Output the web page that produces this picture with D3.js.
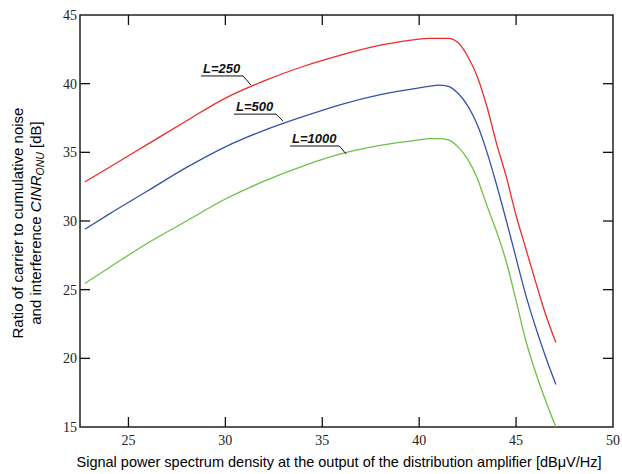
<!DOCTYPE html>
<html lang="en">
<head>
<meta charset="utf-8">
<title>CINR vs signal PSD</title>
<script src="https://cdn.jsdelivr.net/npm/d3@7"></script>
<style>
  html, body { margin: 0; padding: 0; background: #fff; }
  svg { display: block; }
</style>
</head>
<body>
<script>
// data
const xs       = [22.75, 24, 26, 28, 30, 32, 34, 36, 38, 40, 40.5, 41, 41.5, 42, 42.5, 43, 43.5, 44, 44.5, 45, 45.5, 46, 46.5, 47.05];
const l250     = [32.85, 33.9, 35.6, 37.3, 38.95, 40.2, 41.25, 42.1, 42.8, 43.25, 43.3, 43.3, 43.3, 43.0, 42.0, 40.5, 38.3, 35.6, 33.2, 30.4, 28.0, 25.6, 23.3, 21.15];
const l500     = [29.4, 30.5, 32.2, 33.9, 35.4, 36.6, 37.6, 38.5, 39.2, 39.7, 39.8, 39.9, 39.8, 39.3, 38.4, 37.0, 35.0, 32.6, 30.0, 27.3, 24.6, 22.3, 20.2, 18.1];
const l1000    = [25.45, 26.6, 28.4, 30.0, 31.6, 32.9, 34.0, 34.9, 35.5, 35.9, 36.0, 36.0, 35.9, 35.4, 34.5, 33.1, 31.1, 29.2, 27.0, 24.2, 21.3, 19.0, 17.0, 15.0];
const seriesNames = ["L=250", "L=500", "L=1000"];
const xTicks = [25, 30, 35, 40, 45, 50];
const yTicks = [15, 20, 25, 30, 35, 40, 45];
// label anchor: text start [x, y] and point on curve, in data units
const labelText  = [[28.85, 40.78], [30.55, 38.0], [33.44, 35.68]];
const labelPoint = [[31.32, 39.9], [32.97, 37.28], [36.23, 34.88]];

const colors = ["#ee2b2b", "#3452a8", "#6fbf45"];

const SERIF = "'Liberation Serif', 'DejaVu Serif', serif";
const SANS = "'Liberation Sans', Arial, sans-serif";

const W = 622, H = 474;
const mLeft = 80, mRight = 613, mTop = 15, mBottom = 427;

const svg = d3.select("body").append("svg")
  .attr("width", W).attr("height", H);

const x = d3.scaleLinear().domain([22.5, 50]).range([mLeft, mRight]);
const y = d3.scaleLinear().domain([15, 45]).range([mBottom, mTop]);

// frame
svg.append("rect")
  .attr("x", mLeft).attr("y", mTop)
  .attr("width", mRight - mLeft).attr("height", mBottom - mTop)
  .attr("fill", "none").attr("stroke", "#111").attr("stroke-width", 1.4);

// inward ticks on all four sides
const tickLen = 10;
const tg = svg.append("g").attr("stroke", "#111").attr("stroke-width", 1.3);
xTicks.filter(t => t < 50).forEach(t => {
  tg.append("line").attr("x1", x(t)).attr("x2", x(t)).attr("y1", mBottom).attr("y2", mBottom - tickLen);
  tg.append("line").attr("x1", x(t)).attr("x2", x(t)).attr("y1", mTop).attr("y2", mTop + tickLen);
});
yTicks.filter(t => t > 15 && t < 45).forEach(t => {
  tg.append("line").attr("x1", mLeft).attr("x2", mLeft + tickLen).attr("y1", y(t)).attr("y2", y(t));
  tg.append("line").attr("x1", mRight).attr("x2", mRight - tickLen).attr("y1", y(t)).attr("y2", y(t));
});

// tick labels
svg.append("g").selectAll("text").data(xTicks).join("text")
  .attr("x", d => x(d)).attr("y", mBottom + 18)
  .attr("text-anchor", "middle")
  .style("font-family", SERIF).style("font-size", "14px")
  .attr("fill", "#222")
  .text(d => d);

svg.append("g").selectAll("text").data(yTicks).join("text")
  .attr("x", mLeft - 3).attr("y", d => y(d) + 5)
  .attr("text-anchor", "end")
  .style("font-family", SERIF).style("font-size", "14px")
  .attr("fill", "#222")
  .text(d => d);

// axis titles
svg.append("text")
  .attr("x", 339).attr("y", 467)
  .attr("text-anchor", "middle")
  .style("font-family", SANS).style("font-size", "14.5px")
  .attr("fill", "#000")
  .text("Signal power spectrum density at the output of the distribution amplifier [dBμV/Hz]");

const yl = svg.append("g")
  .attr("transform", "translate(23," + 223 + ") rotate(-90)")
  .style("font-family", SANS).style("font-size", "15px")
  .attr("fill", "#000")
  .attr("text-anchor", "middle");
yl.append("text").attr("x", 0).attr("y", 0).text("Ratio of carrier to cumulative noise");
const l2 = yl.append("text").attr("x", 0).attr("y", 18);
l2.append("tspan").text("and interference ");
l2.append("tspan").attr("font-style", "italic").text("CINR");
l2.append("tspan").attr("font-style", "italic").style("font-size", "10.5px").attr("dy", 3).text("ONU");
l2.append("tspan").attr("dy", -3).text(" [dB]");

// curves
const line = d3.line().x(d => x(d[0])).y(d => y(d[1])).curve(d3.curveMonotoneX);
[l250, l500, l1000].forEach((vals, i) => {
  svg.append("path")
    .datum(xs.map((v, k) => [v, vals[k]]))
    .attr("d", line)
    .attr("fill", "none")
    .attr("stroke", colors[i])
    .attr("stroke-width", 1.3);
});

// curve labels with underline and leader
seriesNames.forEach((name, i) => {
  const tx = x(labelText[i][0]), ty = y(labelText[i][1]);
  const t = svg.append("text")
    .attr("x", tx).attr("y", ty)
    .style("font-family", SANS).style("font-size", "13px")
    .style("font-style", "italic").style("font-weight", "bold")
    .attr("fill", "#111")
    .text(name);
  const bb = t.node().getBBox();
  const ux0 = tx - 2, ux1 = tx + bb.width + 2, uy = ty + 3;
  const px = x(labelPoint[i][0]), py = y(labelPoint[i][1]);
  svg.append("path")
    .attr("d", `M${ux0},${uy}H${ux1}L${px},${py}`)
    .attr("fill", "none").attr("stroke", "#111").attr("stroke-width", 1);
});
</script>
</body>
</html>
